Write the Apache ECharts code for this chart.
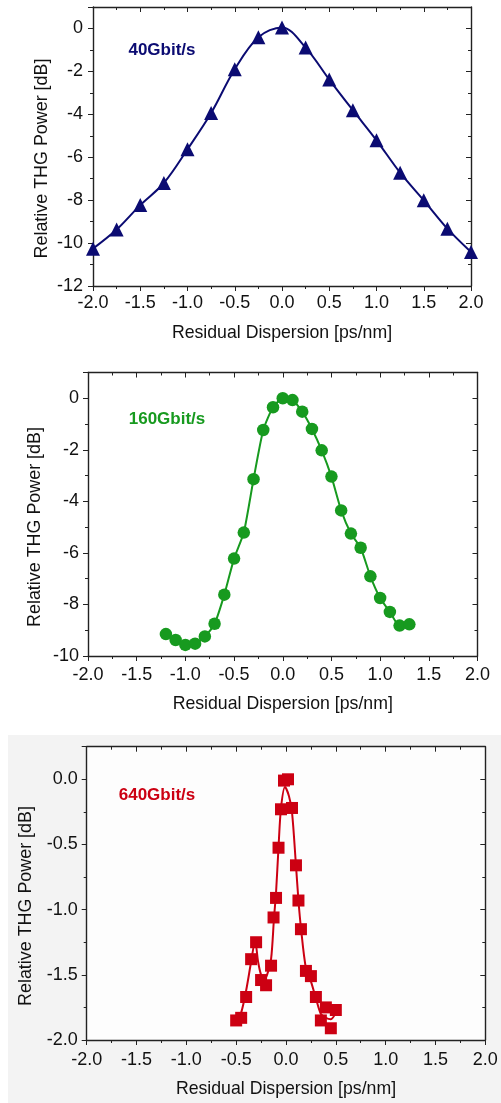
<!DOCTYPE html>
<html>
<head>
<meta charset="utf-8">
<script src="https://cdn.jsdelivr.net/npm/echarts@6/dist/echarts.min.js"></script>
<style>
html,body{margin:0;padding:0;background:#fff;}
#chart{width:501px;height:1103px;}
</style>
</head>
<body>
<div id="chart"></div>
<script>
// ---- data ----
const x40 = [-2.0,-1.75,-1.5,-1.25,-1.0,-0.75,-0.5,-0.25,0.0,0.25,0.5,0.75,1.0,1.25,1.5,1.75,2.0];
const y40 = [-10.26,-9.37,-8.23,-7.2,-5.63,-3.94,-1.9,-0.41,0.05,-0.89,-2.38,-3.81,-5.21,-6.72,-8.01,-9.33,-10.42];

const x160 = [-1.2,-1.1,-1.0,-0.9,-0.8,-0.7,-0.6,-0.5,-0.4,-0.3,-0.2,-0.1,0.0,0.1,0.2,0.3,0.4,0.5,0.6,0.7,0.8,0.9,1.0,1.1,1.2,1.3];
const y160 = [-9.15,-9.38,-9.57,-9.52,-9.24,-8.75,-7.62,-6.22,-5.21,-3.14,-1.23,-0.35,0.0,-0.07,-0.52,-1.19,-2.02,-3.04,-4.35,-5.25,-5.80,-6.91,-7.75,-8.29,-8.82,-8.77];

const x640 = [-0.50,-0.45,-0.40,-0.35,-0.30,-0.25,-0.20,-0.15,-0.125,-0.10,-0.075,-0.05,-0.02,0.02,0.06,0.10,0.125,0.15,0.20,0.25,0.30,0.35,0.40,0.45,0.50];
const y640 = [-1.85,-1.83,-1.67,-1.38,-1.25,-1.54,-1.58,-1.43,-1.06,-0.91,-0.525,-0.23,-0.01,0.0,-0.22,-0.66,-0.93,-1.15,-1.47,-1.51,-1.67,-1.85,-1.75,-1.91,-1.77];
// fitted curve of the 640 Gbit/s panel
const fitX640 = [-0.50,-0.45,-0.40,-0.35,-0.31,-0.28,-0.25,-0.22,-0.19,-0.15,-0.12,-0.10,-0.075,-0.05,-0.01,0.03,0.06,0.10,0.125,0.15,0.20,0.25,0.30,0.35,0.40,0.45,0.50];
const fitY640 = [-1.86,-1.79,-1.62,-1.40,-1.24,-1.40,-1.50,-1.53,-1.50,-1.38,-1.06,-0.87,-0.52,-0.22,-0.06,-0.13,-0.25,-0.66,-0.93,-1.14,-1.45,-1.55,-1.68,-1.80,-1.83,-1.84,-1.79];

const xRange = [-2, 2];
const yRanges = [[-12, 1], [-10, 1], [-2, 0.25]];
const yIntervals = [2, 2, 0.5];
const xTitle = 'Residual Dispersion [ps/nm]';
const yTitle = 'Relative THG Power [dB]';
const labels = ['40Gbit/s', '160Gbit/s', '640Gbit/s'];
const colors = ['#0b0b72', '#179a1f', '#cc0012'];

// ---- layout ----
const FONT = '"Liberation Sans", Arial, sans-serif';
const grids = [
  {left: 93, top: 7, width: 378, height: 279},
  {left: 88, top: 372.5, width: 389.5, height: 283.5},
  {left: 86.7, top: 746.7, width: 398.6, height: 293.3, show: true, backgroundColor: '#fdfdfd', borderWidth: 0}
];
const xLabelMargin = [8, 10.5, 11.5];
const xNameGap = [38, 39.5, 40.5];
const yLabelMargin = [10, 9, 9];
const yTitlePos = [[42.5, 158.5], [35.5, 527], [26.5, 906]];
const annPos = [[162, 50], [167, 419], [157, 795]];

const axisColor = '#222';
const xAxes = [], yAxes = [];
grids.forEach((g, i) => {
  xAxes.push({
    gridIndex: i, type: 'value', min: xRange[0], max: xRange[1], interval: 0.5, position: 'bottom',
    axisLine: {show: true, onZero: false, lineStyle: {color: axisColor, width: 1.4}},
    axisTick: {show: true, inside: false, length: 5},
    minorTick: {show: true, splitNumber: 2, length: 3},
    splitLine: {show: false}, minorSplitLine: {show: false},
    axisLabel: {formatter: v => v.toFixed(1), fontSize: 18, color: '#111', fontFamily: FONT, margin: xLabelMargin[i]},
    name: xTitle, nameLocation: 'middle', nameGap: xNameGap[i],
    nameTextStyle: {fontSize: 17.7, color: '#111', fontFamily: FONT}
  });
  xAxes.push({
    gridIndex: i, type: 'value', min: xRange[0], max: xRange[1], interval: 0.5, position: 'top',
    axisLine: {show: true, onZero: false, lineStyle: {color: axisColor, width: 1.4}},
    axisTick: {show: true, inside: true, length: 5},
    minorTick: {show: true, splitNumber: 2, length: 3},
    splitLine: {show: false}, axisLabel: {show: false}
  });
  const dec = yIntervals[i] < 1 ? 1 : 0;
  yAxes.push({
    gridIndex: i, type: 'value', min: yRanges[i][0], max: yRanges[i][1], interval: yIntervals[i], position: 'left',
    axisLine: {show: true, onZero: false, lineStyle: {color: axisColor, width: 1.4}},
    axisTick: {show: true, inside: false, length: 5},
    minorTick: {show: true, splitNumber: 2, length: 3},
    splitLine: {show: false}, minorSplitLine: {show: false},
    axisLabel: {formatter: v => v.toFixed(dec), fontSize: 18, color: '#111', fontFamily: FONT, margin: yLabelMargin[i], showMaxLabel: false}
  });
  yAxes.push({
    gridIndex: i, type: 'value', min: yRanges[i][0], max: yRanges[i][1], interval: yIntervals[i], position: 'right',
    axisLine: {show: true, onZero: false, lineStyle: {color: axisColor, width: 1.4}},
    axisTick: {show: true, inside: true, length: 5},
    minorTick: {show: true, splitNumber: 2, length: 3},
    splitLine: {show: false}, axisLabel: {show: false}
  });
});

const pairs = (xs, ys) => xs.map((x, k) => [x, ys[k]]);

const series = [
  {type: 'line', xAxisIndex: 0, yAxisIndex: 0, data: pairs(x40, y40), smooth: 0.35,
   symbol: 'triangle', symbolSize: 14, showAllSymbol: true,
   lineStyle: {color: colors[0], width: 2}, itemStyle: {color: colors[0], opacity: 1}},
  {type: 'line', xAxisIndex: 2, yAxisIndex: 2, data: pairs(x160, y160), smooth: 0.2,
   symbol: 'circle', symbolSize: 12.5, showAllSymbol: true,
   lineStyle: {color: colors[1], width: 2}, itemStyle: {color: colors[1], opacity: 1}},
  {type: 'line', xAxisIndex: 4, yAxisIndex: 4, data: pairs(fitX640, fitY640), smooth: 0.3,
   showSymbol: false, lineStyle: {color: colors[2], width: 2}, z: 3},
  {type: 'scatter', xAxisIndex: 4, yAxisIndex: 4, data: pairs(x640, y640),
   symbol: 'rect', symbolSize: 12, itemStyle: {color: colors[2], opacity: 1}, z: 2}
];

const graphic = [
  {type: 'rect', shape: {x: 8, y: 735, width: 493, height: 368}, style: {fill: '#f3f3f3'}, z: -10, silent: true}
];
yTitlePos.forEach(p => graphic.push({
  type: 'text', x: p[0], y: p[1], rotation: Math.PI / 2, z: 100,
  style: {text: yTitle, font: '17.9px ' + FONT, fill: '#111', align: 'center', verticalAlign: 'middle'}
}));
annPos.forEach((p, i) => graphic.push({
  type: 'text', x: p[0], y: p[1], z: 100,
  style: {text: labels[i], font: 'bold 17px ' + FONT, fill: colors[i], align: 'center', verticalAlign: 'middle'}
}));

const chart = echarts.init(document.getElementById('chart'), null, {renderer: 'canvas'});
chart.setOption({
  animation: false,
  backgroundColor: '#ffffff',
  grid: grids,
  xAxis: xAxes,
  yAxis: yAxes,
  series: series,
  graphic: graphic
});
</script>
</body>
</html>
